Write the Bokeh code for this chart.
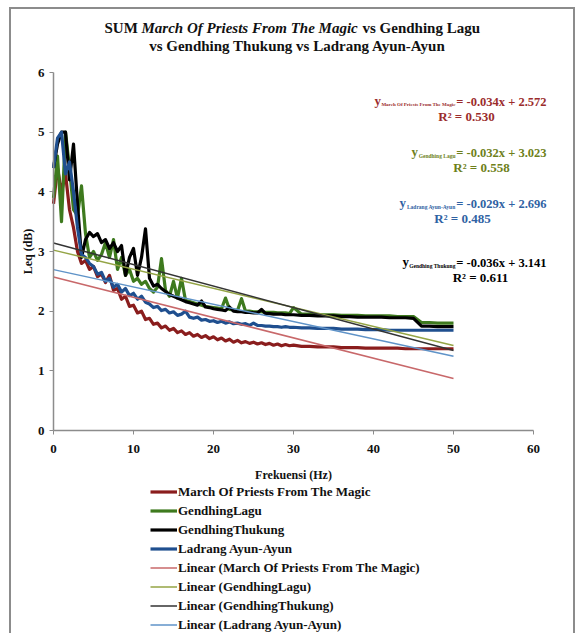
from bokeh.plotting import figure
from bokeh.models import Range1d, Label, Legend, LegendItem
from bokeh.embed import file_html
from bokeh.resources import INLINE

# ---------------- data ----------------
freq = [i * 0.5 for i in range(61)] + list(range(31, 51))

march = [3.8, 4.4, 4.0, 4.3, 3.7, 3.4, 3.0, 2.8, 2.85, 2.7, 2.75, 2.58, 2.62, 2.48, 2.6, 2.35,
         2.38, 2.2, 2.25, 2.08, 2.1, 1.97, 2.0, 1.86, 1.88, 1.78, 1.8, 1.72, 1.75, 1.68, 1.71,
         1.64, 1.67, 1.61, 1.64, 1.58, 1.61, 1.56, 1.59, 1.54, 1.57, 1.52, 1.55, 1.5, 1.53,
         1.48, 1.51, 1.47, 1.49, 1.46, 1.48, 1.45, 1.47, 1.44, 1.46, 1.43, 1.45, 1.42, 1.44,
         1.42, 1.43,
         1.41, 1.41, 1.4, 1.4, 1.4, 1.39, 1.39, 1.39, 1.38, 1.38, 1.38, 1.38, 1.38, 1.37, 1.37,
         1.37, 1.37, 1.37, 1.37, 1.37]

lagu = [3.9, 4.6, 3.5, 5.0, 4.4, 3.7, 3.6, 4.1, 3.3, 2.9, 3.0, 2.85, 2.95, 3.15, 2.9, 3.2,
        2.7, 2.9, 2.6, 2.7, 2.5, 2.55, 2.45, 2.5, 2.38, 2.32, 2.4, 2.88, 2.35, 2.25, 2.5,
        2.22, 2.55, 2.18, 2.16, 2.14, 2.12, 2.1, 2.08, 2.07, 2.06, 2.05, 2.04, 2.22, 2.03,
        2.02, 2.01, 2.21, 2.0, 2.0, 1.99, 1.99, 1.99, 1.98, 1.98, 1.98, 1.97, 1.97, 1.97,
        1.96, 2.06,
        1.95, 1.95, 1.94, 1.94, 1.94, 1.93, 1.93, 1.93, 1.92, 1.92, 1.92, 1.92, 1.91, 1.91,
        1.91, 1.81, 1.81, 1.8, 1.8, 1.8]

thukung = [4.4, 4.8, 5.0, 5.0, 4.2, 4.8, 3.8, 2.9, 3.2, 3.32, 3.25, 3.3, 3.15, 3.2, 3.05,
           3.15, 3.0, 3.1, 2.6, 2.9, 3.05, 2.6, 2.9, 3.38, 2.55, 2.42, 2.45, 2.38, 2.33,
           2.28, 2.25, 2.22, 2.19, 2.16, 2.14, 2.12, 2.1, 2.17, 2.07, 2.06, 2.04, 2.03, 2.02,
           2.01, 2.07, 2.0, 1.99, 1.99, 1.98, 1.98, 1.97, 1.97, 2.03, 1.96, 1.96, 1.95, 1.95,
           1.95, 1.94, 1.94, 1.94,
           1.93, 1.93, 1.92, 1.92, 1.92, 1.91, 1.91, 1.9, 1.9, 1.9, 1.9, 1.89, 1.89, 1.89,
           1.88, 1.75, 1.75, 1.74, 1.74, 1.74]

ladrang = [4.4, 4.9, 5.0, 4.3, 4.5, 4.0, 3.4, 2.95, 2.9, 2.8, 2.75, 2.62, 2.65, 2.5, 2.55,
           2.4, 2.45, 2.32, 2.38, 2.26, 2.3, 2.2, 2.25, 2.15, 2.12, 2.06, 2.08, 2.01, 2.03,
           1.97, 1.99, 1.93, 1.95, 2.0, 1.9, 1.88, 1.9, 1.85, 1.86, 1.83, 1.84, 1.81, 1.83,
           1.8, 1.82, 1.79, 1.8, 1.78, 1.79, 1.76, 1.8, 1.76, 1.76, 1.75, 1.75, 1.74, 1.74,
           1.73, 1.74, 1.73, 1.73,
           1.72, 1.72, 1.71, 1.71, 1.71, 1.7, 1.7, 1.7, 1.69, 1.69, 1.69, 1.68, 1.68, 1.68,
           1.68, 1.68, 1.68, 1.68, 1.68, 1.68]

series_names = ["March Of Priests From The Magic", "Gendhing Lagu",
                "Gendhing Thukung", "Ladrang Ayun-Ayun"]
legend_names = ["March Of Priests From The Magic", "GendhingLagu",
                "GendhingThukung", "Ladrang Ayun-Ayun"]
slopes = [-0.034, -0.032, -0.036, -0.029]
intercepts = [2.572, 3.023, 3.141, 2.696]
r2 = ["0.530", "0.558", "0.611", "0.485"]
trend_x = [0, 50]

x_ticks = [0, 10, 20, 30, 40, 50, 60]
y_ticks = [0, 1, 2, 3, 4, 5, 6]

data_colors = ["#8a1d1d", "#3e7a1e", "#000000", "#1f4f8f"]
trend_colors = ["#c8686a", "#94a445", "#333333", "#5f93c8"]
eq_colors = ["#9b2c2c", "#6e7f1a", "#000000", "#2f62a3"]

FONT = "Liberation Serif"

# ---------------- layout constants (page pixels) ----------------
W, H = 566, 626          # canvas size
CX, CY = 11, 9           # canvas top-left on the page
AX0, AY0 = 53.0, 430.0   # page position of data (0, 0)
PXU, PYU = 8.0, 358.0 / 6.0

x_lo = (CX - AX0) / PXU
x_hi = x_lo + W / PXU
y_hi = (AY0 - CY) / PYU
y_lo = y_hi - H / PYU

p = figure(width=W, height=H, output_backend="svg", toolbar_location=None,
           x_range=Range1d(x_lo, x_hi), y_range=Range1d(y_lo, y_hi),
           min_border_left=0, min_border_right=0, min_border_top=0,
           min_border_bottom=0)
p.styles = {"border-top": "2px solid #8c8c8c", "border-left": "2px solid #8c8c8c",
            "border-right": "2px solid #8c8c8c", "margin-left": "9px",
            "margin-top": "7px"}
p.outline_line_color = None
p.xgrid.grid_line_color = None
p.ygrid.grid_line_color = None
p.background_fill_color = "white"
p.border_fill_color = "white"

for ax in (p.xaxis[0], p.yaxis[0]):
    ax.fixed_location = 0
    ax.axis_line_color = "#8c8c8c"
    ax.axis_line_width = 1.5
    ax.major_tick_line_color = "#8c8c8c"
    ax.major_tick_in = 0
    ax.major_tick_out = 4
    ax.minor_tick_line_color = None
    ax.major_label_text_font = FONT
    ax.major_label_text_font_style = "bold"
    ax.major_label_text_font_size = "13px"
    ax.major_label_text_color = "#111111"
    ax.axis_label_text_font = FONT
    ax.axis_label_text_font_style = "bold"
    ax.axis_label_text_font_size = "12px"
    ax.axis_label_text_color = "#111111"

p.xaxis.bounds = (0, 60)
p.yaxis.bounds = (0, 6)
p.xaxis.ticker = x_ticks
p.yaxis.ticker = y_ticks
p.xaxis.axis_label = "Frekuensi (Hz)"
p.yaxis.axis_label = "Leq (dB)"
p.xaxis.major_label_standoff = 10
p.xaxis.axis_label_standoff = 12
p.yaxis.major_label_standoff = 5
p.yaxis.axis_label_standoff = 0

# data lines
data_renderers = []
for vals, col in zip([march, lagu, thukung, ladrang], data_colors):
    r = p.line(freq, vals, line_color=col, line_width=3.2, line_join="round")
    data_renderers.append(r)

# trend lines
trend_renderers = []
for m, b, col in zip(slopes, intercepts, trend_colors):
    ys = [m * x + b for x in trend_x]
    r = p.line(trend_x, ys, line_color=col, line_width=1.5)
    trend_renderers.append(r)

items = []
for name, r in zip(legend_names, data_renderers):
    items.append(LegendItem(label=name, renderers=[r]))
for name, r in zip(legend_names, trend_renderers):
    items.append(LegendItem(label="Linear (" + name + ")", renderers=[r]))

legend = Legend(items=items, location=(150 - CX, 1), orientation="vertical",
                glyph_width=27, glyph_height=19, label_height=19, label_standoff=1,
                spacing=0, padding=0, margin=0, border_line_color=None,
                background_fill_alpha=0, label_text_font=FONT,
                label_text_font_style="bold", label_text_font_size="13px",
                label_text_color="#111111")
p.add_layout(legend)


def dx(px):
    return (px - AX0) / PXU


def dy(py):
    return (AY0 - py) / PYU


def lab(text, px, py, size, color="#111111", style="bold", align="left"):
    p.add_layout(Label(x=dx(px), y=dy(py), text=text, text_font=FONT,
                       text_font_style=style, text_font_size=size,
                       text_color=color, text_align=align,
                       text_baseline="middle"))


# title
lab("SUM", 104, 27, "15px")
lab("March Of Priests From The Magic", 141, 27, "15px", style="bold italic")
lab("vs Gendhing Lagu", 362, 27, "15px")
lab("vs Gendhing Thukung vs Ladrang Ayun-Ayun", 297, 45, "15px", align="center")

# regression equations (top to bottom: March, Lagu, Ladrang, Thukung)
eq_order = [0, 1, 3, 2]
eq_y = [101, 152, 203, 262]
r2_x = [466, 481, 462, 480]
sub_size = ["5px", "5.5px", "5.5px", "5.5px"]
sub_w = [74, 37, 49, 46]
EQ_RIGHT = 546
SUB_RIGHT = 455
for k, i in enumerate(eq_order):
    c = eq_colors[i]
    yy = eq_y[k]
    lab("y", SUB_RIGHT - sub_w[k] - 0.5, yy - 1, "13px", color=c, align="right")
    lab(series_names[i], SUB_RIGHT, yy + 3, sub_size[k], color=c, align="right")
    lab("= %.3fx + %.3f" % (slopes[i], intercepts[i]), EQ_RIGHT, yy, "12.5px",
        color=c, align="right")
    lab("R\u00b2 = " + r2[i], r2_x[k], yy + 15, "13px", color=c, align="center")

open("out.html", "w").write(file_html(p, INLINE))
